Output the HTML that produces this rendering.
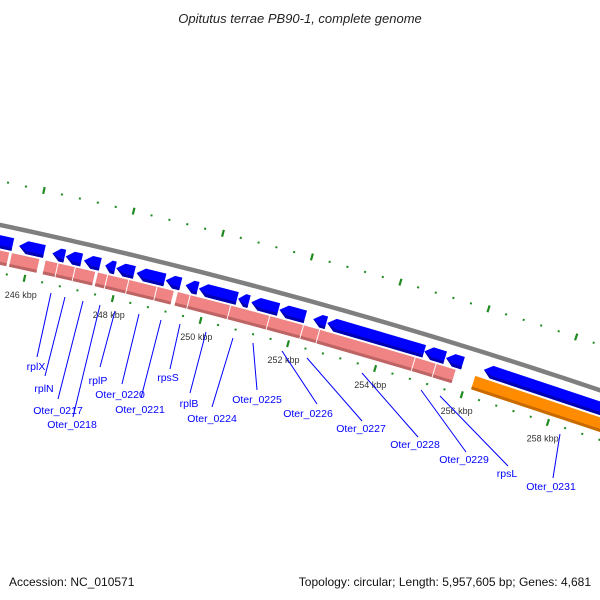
<!DOCTYPE html>
<html><head><meta charset="utf-8">
<style>
html,body{margin:0;padding:0;background:#fff;}
svg{display:block;font-family:"Liberation Sans",sans-serif;}
</style></head>
<body>
<svg id="map" width="600" height="600" viewBox="0 0 600 600" xmlns="http://www.w3.org/2000/svg">
<rect x="0" y="0" width="600" height="600" fill="#fff"/>
<text x="300" y="23" text-anchor="middle" font-size="13" font-style="italic" fill="#222">Opitutus terrae PB90-1, complete genome</text>
<g id="backbone-layer"></g>
<g id="ticks-layer"></g>
<g id="genes-layer"></g>
<g id="labels-layer"></g>
<text x="9" y="586" font-size="12" fill="#111">Accession: NC_010571</text>
<text x="591" y="586" text-anchor="end" font-size="12" fill="#111">Topology: circular; Length: 5,957,605 bp; Genes: 4,681</text>
</svg>
<script>
// data (kbp)
const blueStarts = [245.0,245.72,246.47,246.77,247.18,247.66,247.91,248.37,249.03,249.48,249.78,250.67,250.97,251.61,252.38,252.70,254.92,255.42,256.29];
const blueEnds   = [245.60,246.31,246.77,247.15,247.57,247.91,248.34,249.03,249.39,249.78,250.67,250.94,251.61,252.22,252.70,254.94,255.42,255.83,260.0];
const pinkStarts = [244.9,245.60,246.36,246.65,247.04,247.54,247.77,248.25,248.89,249.35,249.64,250.56,251.45,252.22,252.59,254.78,255.26];
const pinkEnds   = [245.56,246.24,246.65,247.04,247.50,247.77,248.25,248.89,249.28,249.64,250.56,251.45,252.22,252.59,254.78,255.26,255.72];
const orangeStarts = [256.15];
const orangeEnds   = [260.0];
const tickLabelsKbp = [246,248,250,252,254,256,258];
const geneNames = ["rplX","rplN","Oter_0217","Oter_0218","rplP","Oter_0220","Oter_0221","rpsS","rplB","Oter_0224","Oter_0225","Oter_0226","Oter_0227","Oter_0228","Oter_0229","rpsL","Oter_0231"];

// geometry
const CX=-1131, CY=5499;
const R_OUT=5437, R_GRAY=5394, R_BLUE_O=5384, R_BLUE_I=5371, R_PINK_O=5369, R_PINK_I=5355, R_TICK=5347, R_LAB=5330;
function ang(k){ return (-77.52 + (k-246)*0.485)*Math.PI/180; }
function pt(r,k){ const a=ang(k); return [CX+r*Math.cos(a), CY+r*Math.sin(a)]; }
const PXK = 1/45.5; // kbp per pixel along arc
const NS="http://www.w3.org/2000/svg";
function mk(tag, parent){ const e=document.createElementNS(NS,tag); parent.appendChild(e); return e; }
function poly(pts){ return pts.map(p=>p[0].toFixed(2)+","+p[1].toFixed(2)).join(" "); }

// backbone
const bb=document.getElementById('backbone-layer');
(function(){
  const pts=[]; for(let k=244;k<=261;k+=0.25) pts.push(pt(R_GRAY,k));
  const pl=mk('polyline',bb);
  
  
  pl.setAttribute('points',poly(pts)); pl.setAttribute('fill','none');
  pl.setAttribute('stroke','#7f7f7f'); pl.setAttribute('stroke-width','4.5');
})();

// ticks
const tl=document.getElementById('ticks-layer');
for(let i=0;i<=45;i++){
  const k=244+i*0.4;
  const big = (i%5===0);
  [R_TICK,R_OUT].forEach((r,ri)=>{
    const len = big?7:2;
    const a=pt(r-len/2,k), b=pt(r+len/2,k);
    const l=mk('line',tl);
    
    
    l.setAttribute('x1',a[0]);l.setAttribute('y1',a[1]);l.setAttribute('x2',b[0]);l.setAttribute('y2',b[1]);
    l.setAttribute('stroke','#1f8a1f'); l.setAttribute('stroke-width', big?2.2:2);
  });
}
tickLabelsKbp.forEach(k=>{
  const p=pt(R_LAB,k);
  const t=mk('text',tl);
  
  
  t.setAttribute('x',p[0]); t.setAttribute('y',p[1]+3);
  t.setAttribute('text-anchor','middle'); t.setAttribute('font-size','9'); t.setAttribute('fill','#333');
  t.textContent=k+" kbp";
});

// genes
const gl=document.getElementById('genes-layer');
function box(k1,k2,ro,ri,fill,dark,name){
  const g=mk('g',gl);
  
  
  const s=k1+0.5*PXK, e=k2-0.5*PXK;
  const p=mk('polygon',g);
  p.setAttribute('points',poly([pt(ro,s),pt(ro,e),pt(ri,e),pt(ri,s)]));
  p.setAttribute('fill',fill);
  const d=mk('polygon',g);
  d.setAttribute('points',poly([pt(ri+3,s),pt(ri+3,e),pt(ri,e),pt(ri,s)]));
  d.setAttribute('fill',dark);
}
function arrow(k1,k2,ro,ri,fill,dark,name){
  const g=mk('g',gl);
  
  
  const s=k1+0.5*PXK, e=k2-0.5*PXK;
  const h=Math.min(8*PXK,(e-s)*0.6);
  const rm=(ro+ri)/2;
  const p=mk('polygon',g);
  p.setAttribute('points',poly([pt(rm,s),pt(ro,s+h),pt(ro,e),pt(ri,e),pt(ri,s+h)]));
  p.setAttribute('fill',fill);
  const d=mk('polygon',g);
  d.setAttribute('points',poly([pt(rm,s),pt(ri+3,s+h+0.5*PXK),pt(ri+3,e),pt(ri,e),pt(ri,s+h)]));
  d.setAttribute('fill',dark);
}
pinkStarts.forEach((s,i)=>box(s,pinkEnds[i],R_PINK_O,R_PINK_I,'#f08383','#bd6464','cds-feature'));
orangeStarts.forEach((s,i)=>box(s,orangeEnds[i],R_PINK_O,R_PINK_I,'#ff8c00','#c86a00','rrna-feature'));
blueStarts.forEach((s,i)=>arrow(s,blueEnds[i],R_BLUE_O,R_BLUE_I,'#0000ff','#0000b0','gene-feature'));

// gene labels (leader lines + text)
const lineX1=[51,65,83,100,115,139,161,180,206,233,253,282,307,362,421,440,560];
const lineY1=[293,297,301,305,311,314,320,324,332,338,343,351,358,373,390,396,434];
const lineX2=[37,45,58,73,100,122,141,170,190,212,257,317,362,418,466,508,553];
const lineY2=[357,376,399,417,367,384,398,369,393,407,390,404,421,437,452,466,478];
const textX=[36,44,58,72,98,120,140,168,189,212,257,308,361,415,464,507,551];
const textY=[370,392,414,428,384,398,413,381,407,422,403,417,432,448,463,477,490];
const lab=document.getElementById('labels-layer');
geneNames.forEach((n,i)=>{
  const l=mk('line',lab);
  
  
  l.setAttribute('x1',lineX1[i]);l.setAttribute('y1',lineY1[i]);l.setAttribute('x2',lineX2[i]);l.setAttribute('y2',lineY2[i]);
  l.setAttribute('stroke','#0000ff'); l.setAttribute('stroke-width','1');
  const t=mk('text',lab);
  
  
  t.setAttribute('x',textX[i]); t.setAttribute('y',textY[i]);
  t.setAttribute('text-anchor','middle'); t.setAttribute('font-size','10.5'); t.setAttribute('fill','#0000ff');
  t.textContent=n;
});
</script>
</body></html>
